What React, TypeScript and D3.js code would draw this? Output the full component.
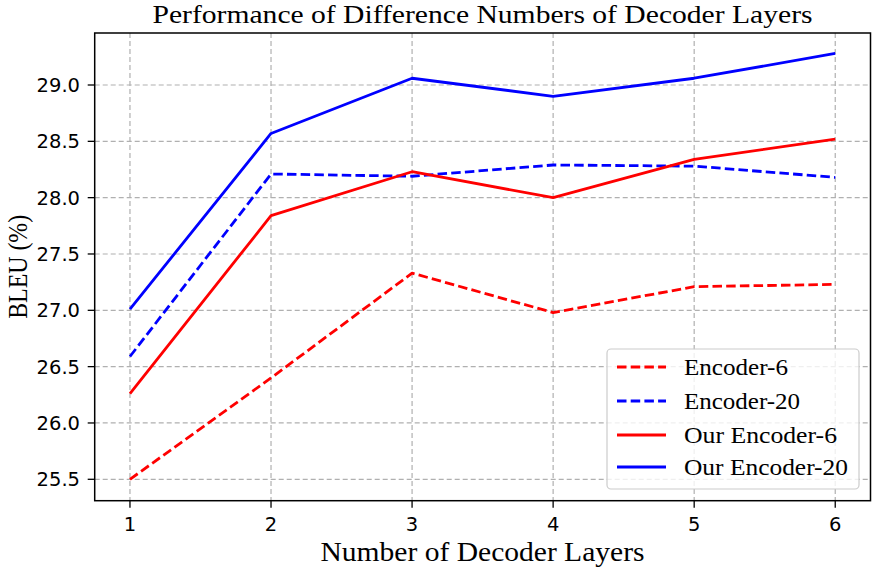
import React from "react";
import * as d3 from "d3";

const layers = [1, 2, 3, 4, 5, 6];
const encoder6 = [25.5, 26.4, 27.33, 26.98, 27.21, 27.23];
const encoder20 = [26.59, 28.21, 28.19, 28.29, 28.28, 28.18];
const ourEncoder6 = [26.26, 27.84, 28.23, 28.0, 28.34, 28.52];
const ourEncoder20 = [27.01, 28.57, 29.06, 28.9, 29.06, 29.28];
const yTicks = [25.5, 26.0, 26.5, 27.0, 27.5, 28.0, 28.5, 29.0];
const xTicks = [1, 2, 3, 4, 5, 6];

const seriesList = [
  { name: "Encoder-6", values: encoder6, color: "#ff0000", dashed: true },
  { name: "Encoder-20", values: encoder20, color: "#0000ff", dashed: true },
  { name: "Our Encoder-6", values: ourEncoder6, color: "#ff0000", dashed: false },
  { name: "Our Encoder-20", values: ourEncoder20, color: "#0000ff", dashed: false },
];
const legendWidths = [104, 116, 153, 164];

const W = 872;
const H = 569;
const left = 94.7;
const right = 870.5;
const top = 33;
const bottom = 500.7;

export default function App() {
  const x = d3.scaleLinear().domain([0.75, 6.25]).range([left, right]);
  const y = d3.scaleLinear().domain([25.31, 29.4616]).range([bottom, top]);
  const line = d3
    .line<number>()
    .x((_, i) => x(layers[i]))
    .y((d) => y(d));

  const serif = "'Liberation Serif', 'Times New Roman', serif";
  const sans = "'DejaVu Sans', sans-serif";

  const legX = 607;
  const legY = 349;
  const legW = 252;
  const legH = 140;
  const rowYs = [367, 401, 435, 467];

  return (
    <svg
      width={W}
      height={H}
      style={{ position: "absolute", left: 0, top: 0, background: "#fff" }}
    >
      <rect x={0} y={0} width={W} height={H} fill="#fff" />
      {/* grid */}
      <g stroke="#b0b0b0" strokeWidth={1.2} strokeDasharray="5,3">
        {xTicks.map((t) => (
          <line key={"gx" + t} x1={x(t)} x2={x(t)} y1={top} y2={bottom} />
        ))}
        {yTicks.map((t) => (
          <line key={"gy" + t} x1={left} x2={right} y1={y(t)} y2={y(t)} />
        ))}
      </g>
      {/* lines */}
      <g fill="none" strokeWidth={2.8} strokeLinejoin="round">
        {seriesList.map((s) => (
          <path
            key={s.name}
            d={line(s.values) || ""}
            stroke={s.color}
            strokeDasharray={s.dashed ? "9.5,4.2" : undefined}
          />
        ))}
      </g>
      {/* frame */}
      <rect
        x={left}
        y={top}
        width={right - left}
        height={bottom - top}
        fill="none"
        stroke="#000"
        strokeWidth={1.5}
      />
      {/* ticks */}
      <g stroke="#000" strokeWidth={1.3}>
        {xTicks.map((t) => (
          <line key={"tx" + t} x1={x(t)} x2={x(t)} y1={bottom} y2={bottom + 7} />
        ))}
        {yTicks.map((t) => (
          <line key={"ty" + t} x1={left - 7} x2={left} y1={y(t)} y2={y(t)} />
        ))}
      </g>
      <g fontFamily={sans} fontSize={19.5} fill="#000">
        {xTicks.map((t) => (
          <text key={"lx" + t} x={x(t)} y={531} textAnchor="middle">
            {t}
          </text>
        ))}
        {yTicks.map((t) => (
          <text key={"ly" + t} x={80} y={y(t) + 7} textAnchor="end">
            {t.toFixed(1)}
          </text>
        ))}
      </g>
      {/* title and labels */}
      <text
        x={482.5}
        y={23}
        textAnchor="middle"
        fontFamily={serif}
        fontSize={25}
        textLength={660}
        lengthAdjust="spacingAndGlyphs"
      >
        Performance of Difference Numbers of Decoder Layers
      </text>
      <text
        x={482.5}
        y={561}
        textAnchor="middle"
        fontFamily={serif}
        fontSize={26.5}
        textLength={324}
        lengthAdjust="spacingAndGlyphs"
      >
        Number of Decoder Layers
      </text>
      <text
        transform={`translate(27, ${(top + bottom) / 2}) rotate(-90)`}
        textAnchor="middle"
        fontFamily={serif}
        fontSize={26.5}
        textLength={104}
        lengthAdjust="spacingAndGlyphs"
      >
        BLEU (%)
      </text>
      {/* legend */}
      <rect
        x={legX}
        y={legY}
        width={legW}
        height={legH}
        rx={4}
        fill="#fff"
        fillOpacity={0.8}
        stroke="#cccccc"
        strokeWidth={1.2}
      />
      {seriesList.map((s, i) => (
        <g key={"leg" + s.name}>
          <line
            x1={617}
            x2={666}
            y1={rowYs[i]}
            y2={rowYs[i]}
            stroke={s.color}
            strokeWidth={2.8}
            strokeDasharray={s.dashed ? "9.5,4.2" : undefined}
          />
          <text
            x={684}
            y={rowYs[i] + 7.5}
            fontFamily={serif}
            fontSize={22.5}
            textLength={legendWidths[i]}
            lengthAdjust="spacingAndGlyphs"
          >
            {s.name}
          </text>
        </g>
      ))}
    </svg>
  );
}
